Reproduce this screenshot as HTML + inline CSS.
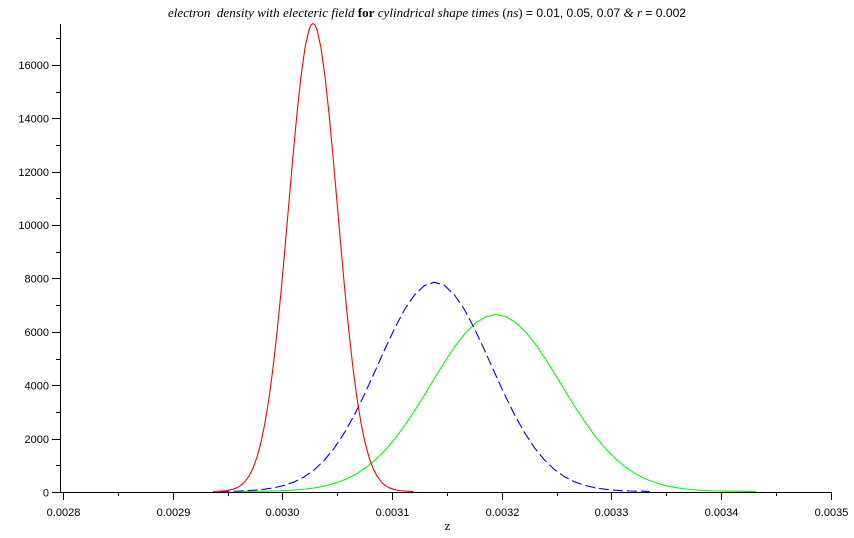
<!DOCTYPE html>
<html>
<head>
<meta charset="utf-8">
<style>
  html, body { margin: 0; padding: 0; background: #ffffff; }
  body { width: 854px; height: 538px; overflow: hidden; }
  svg { display: block; }
  .tl { font-family: "Liberation Sans", "DejaVu Sans", sans-serif; font-size: 11px; fill: #000; }
</style>
</head>
<body>
<svg width="854" height="538" viewBox="0 0 854 538" xmlns="http://www.w3.org/2000/svg">
  <rect x="0" y="0" width="854" height="538" fill="#ffffff"/>

  <!-- Title -->
  <text x="168" y="17" font-family="Liberation Serif, serif" font-size="13" fill="#000" textLength="518" lengthAdjust="spacingAndGlyphs" style="white-space:pre"><tspan font-style="italic">electron  density with electeric field </tspan><tspan font-weight="bold">for</tspan><tspan font-style="italic"> cylindrical shape times</tspan><tspan> (</tspan><tspan font-style="italic">ns</tspan><tspan>) </tspan><tspan font-family="Liberation Sans, sans-serif" font-size="12">= 0.01, 0.05, 0.07 </tspan><tspan font-style="italic">&amp; r </tspan><tspan font-family="Liberation Sans, sans-serif" font-size="12">= 0.002</tspan></text>

  <!-- Curves -->
  <g fill="none" stroke-width="1.1" stroke-linejoin="round">
    <!-- green t=0.07 -->
    <polyline stroke="#00ff00" points="236,491.5 261,491.2 281,490.75 296,489.9 306,489.0 316,487.7 326,485.7 336,482.9 346,479.15 356,474.1 366,467.5 376,459.3 386,449.2 396,437.3 406,423.6 416,408.5 426,392.4 436,375.9 446,359.8 456,345.0 466,332.4 476,322.7 486,316.6 496,314.5 506,316.6 516,322.7 526,332.4 536,345.0 546,359.8 556,375.9 566,392.4 576,408.5 586,423.6 596,437.3 606,449.2 616,459.3 626,467.5 636,474.1 646,479.15 656,482.9 666,485.7 676,487.7 686,489.0 696,489.9 711,490.75 731,491.2 756,491.5"/>
    <!-- blue dashed t=0.05 -->
    <polyline stroke="#0000ff" stroke-dasharray="10,4" points="219.5,491.4 239.5,491.0 254.5,490.2 264.5,489.2 274.5,487.7 284.5,485.3 294.5,481.8 304.5,476.7 314.5,469.6 324.5,460.0 334.5,447.8 344.5,432.6 354.5,414.7 364.5,394.3 374.5,372.4 384.5,350.0 394.5,328.6 404.5,309.7 414.5,294.9 424.5,285.45 434.5,282.2 444.5,285.45 454.5,294.9 464.5,309.7 474.5,328.6 484.5,350.0 494.5,372.4 504.5,394.3 514.5,414.7 524.5,432.6 534.5,447.8 544.5,460.0 554.5,469.6 564.5,476.7 574.5,481.8 584.5,485.3 594.5,487.7 604.5,489.2 614.5,490.2 629.5,491.0 649.5,491.4"/>
    <!-- red t=0.01 -->
    <polyline stroke="#ff0000" points="213,491.5 221,491.1 227,490.5 233,489.2 237,487.7 241,485.3 245,481.6 249,476.1 253,468.2 257,457.2 261,442.3 265,422.8 269,398.2 273,368.1 277,332.5 281,292.1 285,247.9 289,201.8 293,156.1 297,113.4 301,76.4 305,47.8 309,29.7 311,25.1 313,23.5 315,25.1 317,29.7 321,47.8 325,76.4 329,113.4 333,156.1 337,201.8 341,247.9 345,292.1 349,332.5 353,368.1 357,398.2 361,422.8 365,442.3 369,457.2 373,468.2 377,476.1 381,481.6 385,485.3 389,487.7 393,489.2 399,490.5 405,491.1 413,491.5"/>
  </g>

  <!-- Axes -->
  <g stroke="#000" stroke-width="1" fill="none" shape-rendering="crispEdges">
    <line x1="60.5" y1="24" x2="60.5" y2="493"/>
    <line x1="60" y1="492.5" x2="832" y2="492.5"/>
    <!-- y major ticks -->
    <line x1="52" y1="492.5" x2="60" y2="492.5"/>
    <line x1="52" y1="439.5" x2="60" y2="439.5"/>
    <line x1="52" y1="385.5" x2="60" y2="385.5"/>
    <line x1="52" y1="332.5" x2="60" y2="332.5"/>
    <line x1="52" y1="278.5" x2="60" y2="278.5"/>
    <line x1="52" y1="225.5" x2="60" y2="225.5"/>
    <line x1="52" y1="172.5" x2="60" y2="172.5"/>
    <line x1="52" y1="118.5" x2="60" y2="118.5"/>
    <line x1="52" y1="65.5" x2="60" y2="65.5"/>
    <!-- y minor ticks -->
    <line x1="56" y1="465.5" x2="60" y2="465.5"/>
    <line x1="56" y1="412.5" x2="60" y2="412.5"/>
    <line x1="56" y1="359.5" x2="60" y2="359.5"/>
    <line x1="56" y1="305.5" x2="60" y2="305.5"/>
    <line x1="56" y1="252.5" x2="60" y2="252.5"/>
    <line x1="56" y1="198.5" x2="60" y2="198.5"/>
    <line x1="56" y1="145.5" x2="60" y2="145.5"/>
    <line x1="56" y1="92.5" x2="60" y2="92.5"/>
    <line x1="56" y1="38.5" x2="60" y2="38.5"/>
    <!-- x major ticks -->
    <line x1="63.5" y1="492" x2="63.5" y2="500"/>
    <line x1="173.5" y1="492" x2="173.5" y2="500"/>
    <line x1="282.5" y1="492" x2="282.5" y2="500"/>
    <line x1="392.5" y1="492" x2="392.5" y2="500"/>
    <line x1="502.5" y1="492" x2="502.5" y2="500"/>
    <line x1="611.5" y1="492" x2="611.5" y2="500"/>
    <line x1="721.5" y1="492" x2="721.5" y2="500"/>
    <line x1="831.5" y1="492" x2="831.5" y2="500"/>
    <!-- x minor ticks -->
    <line x1="118.5" y1="492" x2="118.5" y2="496"/>
    <line x1="228.5" y1="492" x2="228.5" y2="496"/>
    <line x1="337.5" y1="492" x2="337.5" y2="496"/>
    <line x1="447.5" y1="492" x2="447.5" y2="496"/>
    <line x1="557.5" y1="492" x2="557.5" y2="496"/>
    <line x1="666.5" y1="492" x2="666.5" y2="496"/>
    <line x1="776.5" y1="492" x2="776.5" y2="496"/>
  </g>

  <!-- Y tick labels -->
  <g class="tl" text-anchor="end">
    <text x="49" y="496.5">0</text>
    <text x="49" y="443">2000</text>
    <text x="49" y="389.5">4000</text>
    <text x="49" y="336">6000</text>
    <text x="49" y="282.5">8000</text>
    <text x="49" y="229">10000</text>
    <text x="49" y="176">12000</text>
    <text x="49" y="122.5">14000</text>
    <text x="49" y="69">16000</text>
  </g>

  <!-- X tick labels -->
  <g class="tl" text-anchor="middle">
    <text x="63.5" y="516">0.0028</text>
    <text x="173.5" y="516">0.0029</text>
    <text x="282.5" y="516">0.0030</text>
    <text x="392.5" y="516">0.0031</text>
    <text x="502.5" y="516">0.0032</text>
    <text x="611.5" y="516">0.0033</text>
    <text x="721.5" y="516">0.0034</text>
    <text x="831.5" y="516">0.0035</text>
  </g>

  <!-- X axis label -->
  <text x="447.5" y="530" text-anchor="middle" font-family="Liberation Serif, serif" font-size="13" fill="#000">z</text>
</svg>
</body>
</html>
